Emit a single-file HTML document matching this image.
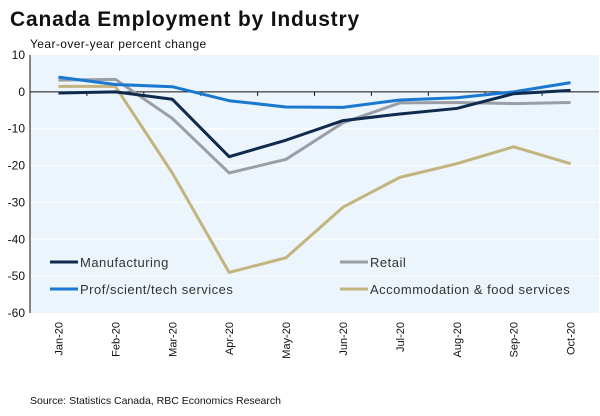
<!DOCTYPE html>
<html><head><meta charset="utf-8"><style>
body{margin:0;background:#fff;width:600px;height:411px;overflow:hidden;font-family:"Liberation Sans",sans-serif}
</style></head><body>
<svg width="600" height="411" viewBox="0 0 600 411">
<text x="10" y="26" font-size="21" font-weight="bold" fill="#111" letter-spacing="0.8">Canada Employment by Industry</text>
<text x="30" y="48" font-size="12" fill="#111" letter-spacing="0.4">Year-over-year percent change</text>
<g id="plot"></g>
<text x="30" y="404" font-size="10.5" fill="#111">Source: Statistics Canada, RBC Economics Research</text>
</svg>
<script>
const categories=["Jan-20","Feb-20","Mar-20","Apr-20","May-20","Jun-20","Jul-20","Aug-20","Sep-20","Oct-20"];
const manufacturing=[-0.3,0,-2,-17.6,-13.1,-7.8,-6,-4.5,-0.5,0.4];
const retail=[3.2,3.4,-7.2,-22,-18.3,-8.4,-3,-2.9,-3.2,-2.9];
const prof=[4.0,2,1.4,-2.4,-4.1,-4.2,-2.2,-1.6,0,2.5];
const accom=[1.5,1.5,-22,-49,-45,-31.3,-23.2,-19.5,-14.9,-19.5];
const yTicks=[10,0,-10,-20,-30,-40,-50,-60];
const seriesNames=["Manufacturing","Retail","Prof/scient/tech services","Accommodation & food services"];
const ns="http://www.w3.org/2000/svg";
const L=30,R=599,T=55,B=313,yMax=10,yMin=-60;
const step=(R-L)/categories.length;
function xs(i){return L+step*(i+0.5);}
function ys(v){return T+(yMax-v)/(yMax-yMin)*(B-T);}
const g=document.getElementById('plot');
function mk(t,a){const e=document.createElementNS(ns,t);for(const k in a)e.setAttribute(k,a[k]);g.appendChild(e);return e;}
const bg=mk('rect',{x:L,y:T,width:R-L,height:B-T,fill:'#edf5fc'});


yTicks.forEach(v=>{
  if(v!==0&&v!==yMin&&v!==yMax){const gl=mk('line',{x1:L,x2:R,y1:ys(v),y2:ys(v),stroke:'#fff','stroke-width':1});
  
  }
  const t=mk('text',{x:25,y:ys(v)+4,'font-size':12,'text-anchor':'end',fill:'#111'});t.textContent=v;
  
  
});
const ax=mk('line',{x1:L,x2:L,y1:T,y2:B,stroke:'#111','stroke-width':1});


const zl=mk('line',{x1:L,x2:R,y1:ys(0),y2:ys(0),stroke:'#111','stroke-width':1});


for(let i=1;i<categories.length;i++){const tk=mk('line',{x1:L+step*i,x2:L+step*i,y1:ys(0),y2:ys(0)+4,stroke:'#111'});

}
categories.forEach((c,i)=>{
  const t=mk('text',{x:0,y:0,'font-size':11,'text-anchor':'end',fill:'#111',transform:`translate(${xs(i)+4},322) rotate(-90)`});t.textContent=c;
  
  
});
const data=[[accom,'#c2b47e'],[retail,'#9a9ea5'],[prof,'#1b78d0'],[manufacturing,'#0e2a4d']];
const ids=['accommodation-line','retail-line','prof-line','manufacturing-line'];
data.forEach((d,k)=>{
  const p=mk('polyline',{points:d[0].map((v,i)=>xs(i)+','+ys(v)).join(' '),fill:'none',stroke:d[1],'stroke-width':3,'stroke-linejoin':'round'});
  
  
});
const leg=[[50,262,'#0e2a4d',0],[340,262,'#9a9ea5',1],[50,289,'#1b78d0',2],[340,289,'#c2b47e',3]];
leg.forEach(l=>{
  const ln=mk('line',{x1:l[0],x2:l[0]+28,y1:l[1],y2:l[1],stroke:l[2],'stroke-width':3});
  
  
  const t=mk('text',{x:l[0]+30,y:l[1]+5,'font-size':13,fill:'#333','letter-spacing':0.5});t.textContent=seriesNames[l[3]];
  
  
});
</script>
</body></html>
